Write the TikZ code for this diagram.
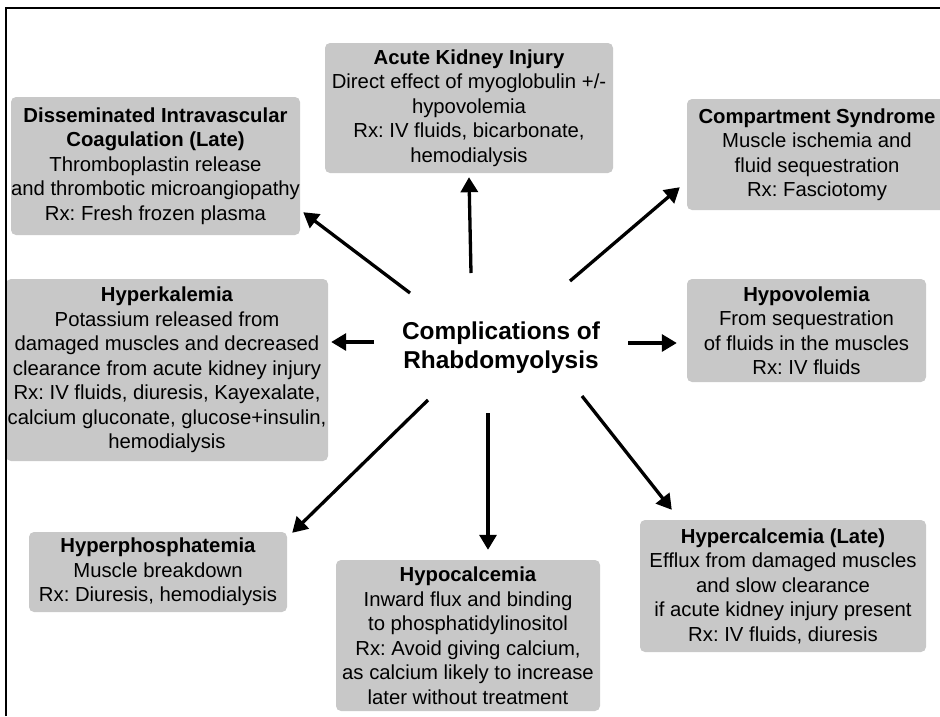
\documentclass[tikz,border=0pt]{standalone}
\usepackage{fontspec}
\setmainfont{Liberation Sans}
\usetikzlibrary{arrows.meta,calc}
\definecolor{boxgray}{RGB}{200,200,200}
\frenchspacing
\begin{document}
\begin{tikzpicture}[x=1pt,y=-1pt,
  infobox/.style={fill=boxgray, rounded corners=5pt, inner sep=0pt,
    align=center, font=\fontsize{20.3}{24.5}\selectfont},
  hub/.style={align=center, inner sep=0pt,
    font=\bfseries\fontsize{24.4}{29}\selectfont},
  arr/.style={line width=3.3pt, -{Triangle[length=15pt,width=17pt]}},
  frameline/.style={line width=2pt}]
\useasboundingbox (0,0) rectangle (940,716);

% complication boxes
\node[infobox, minimum width=288, minimum height=130] (aki) at (469,108)
  {\textbf{Acute Kidney Injury}\\Direct effect of myoglobulin +/-\\hypovolemia\\Rx: IV fluids, bicarbonate,\\hemodialysis};
\node[infobox, minimum width=289, minimum height=138] (dic) at (155.5,166)
  {\textbf{Disseminated Intravascular}\\\textbf{Coagulation (Late)}\\Thromboplastin release\\and thrombotic microangiopathy\\Rx: Fresh frozen plasma};
\node[infobox, minimum width=260, minimum height=111] (comp) at (817,154.5)
  {\textbf{Compartment Syndrome}\\Muscle ischemia and\\fluid sequestration\\Rx: Fasciotomy};
\node[infobox, minimum width=239, minimum height=103] (hypov) at (806.5,330.5)
  {\textbf{Hypovolemia}\\From sequestration\\of fluids in the muscles\\Rx: IV fluids};
\node[infobox, minimum width=322, minimum height=182] (hyperk) at (167,370)
  {\textbf{Hyperkalemia}\\Potassium released from\\damaged muscles and decreased\\clearance from acute kidney injury\\Rx: IV fluids, diuresis, Kayexalate,\\calcium gluconate, glucose+insulin,\\hemodialysis};
\node[infobox, minimum width=258, minimum height=80] (hyperp) at (158,572)
  {\textbf{Hyperphosphatemia}\\Muscle breakdown\\Rx: Diuresis, hemodialysis};
\node[infobox, minimum width=264, minimum height=151] (hypoc) at (468,635.5)
  {\textbf{Hypocalcemia}\\Inward flux and binding\\to phosphatidylinositol\\Rx: Avoid giving calcium,\\as calcium likely to increase\\later without treatment};
\node[infobox, minimum width=286, minimum height=132] (hyperc) at (783,586)
  {\textbf{Hypercalcemia (Late)}\\Efflux from damaged muscles\\and slow clearance\\if acute kidney injury present\\Rx: IV fluids, diuresis};

% central topic
\node[hub] (rhabdo) at (501,348) {Complications of\\Rhabdomyolysis};

% arrow tails around the central topic
\coordinate (sdic)    at ($(rhabdo.center)+(-91,-55)$);
\coordinate (saki)    at ($(rhabdo.center)+(-30,-75)$);
\coordinate (scomp)   at ($(rhabdo.center)+(69,-67)$);
\coordinate (shyperk) at ($(rhabdo.center)+(-127,-6)$);
\coordinate (shypov)  at ($(rhabdo.center)+(127,-5)$);
\coordinate (shyperp) at ($(rhabdo.center)+(-73,52)$);
\coordinate (shypoc)  at ($(rhabdo.center)+(-13,65)$);
\coordinate (shyperc) at ($(rhabdo.center)+(81,48)$);

% arrows to each complication
\draw[arr] (sdic)    -- ($(dic.south east)+(3,-23)$);
\draw[arr] (saki)    -- ($(aki.south)+(0,4)$);
\draw[arr] (scomp)   -- ($(comp.south west)+(-7,-23)$);
\draw[arr] (shyperk) -- ($(hyperk.east)+(3,-28)$);
\draw[arr] (shypov)  -- ($(hypov.west)+(-10,12.5)$);
\draw[arr] (shyperp) -- ($(hyperp.north east)+(5,1)$);
\draw[arr] (shypoc)  -- ($(hypoc.north)+(20,-10)$);
\draw[arr] (shyperc) -- ($(hyperc.north west)+(32,-10)$);

% outer frame (top and left edges)
\draw[frameline] (6,716) -- (6,8) -- (940,8);
\end{tikzpicture}
\end{document}
